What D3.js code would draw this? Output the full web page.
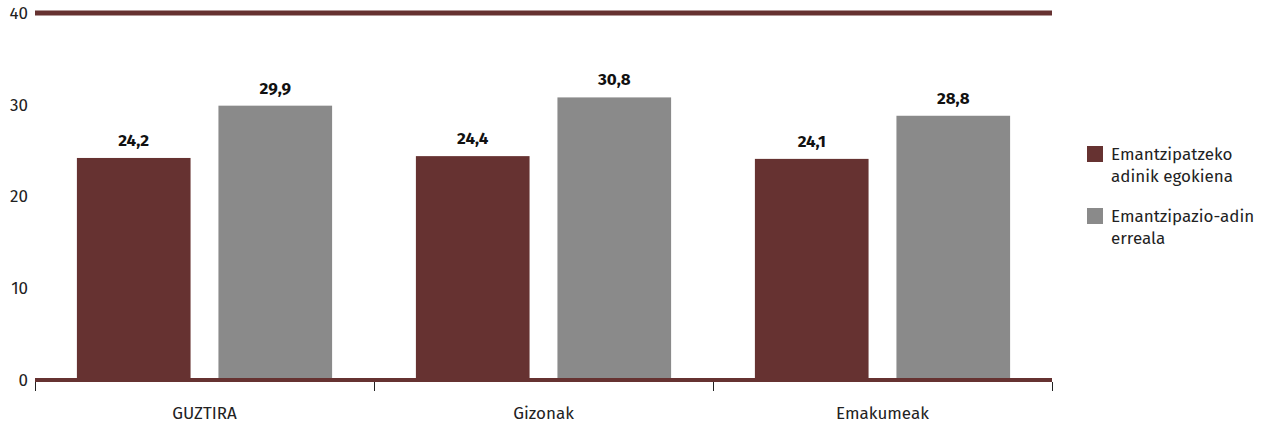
<!DOCTYPE html>
<html><head><meta charset="utf-8">
<script src="https://cdn.jsdelivr.net/npm/d3@7"></script>
<style>body{margin:0;background:#fff;} text{font-family:"Fira Sans","Noto Sans","Open Sans",sans-serif;}</style>
</head><body>
<svg id="c" width="1269" height="423"></svg>
<script>
const categories = ["GUZTIRA", "Gizonak", "Emakumeak"];
const seriesNames = ["Emantzipatzeko adinik egokiena", "Emantzipazio-adin erreala"];
const seriesA = [24.2, 24.4, 24.1];
const seriesB = [29.9, 30.8, 28.8];
const yTicks = [0, 10, 20, 30, 40];
const colors = ["#663231", "#8a8a8a"];

(function(){
const svg = d3.select("#c");
const pl = 35, pr = 1052, pt = 13, pb = 380;
const fs = 17;
const x = d3.scaleBand().domain(categories).range([pl, pr]).padding(0);
const xi = d3.scaleBand().domain([0,1]).range([0, x.bandwidth()]).paddingInner(0.197).paddingOuter(0.296);
const y = d3.scaleLinear().domain([0, 40]).range([pb, pt]);

svg.append("g").selectAll("text").data(yTicks).join("text")
  .attr("x", 28).attr("y", d => y(d)).attr("dy", "0.35em")
  .attr("text-anchor", "end").attr("font-size", fs).attr("fill", "#222")
  .text(d => d);

svg.append("line").attr("x1", pl).attr("x2", pr).attr("y1", y(40)).attr("y2", y(40))
  .attr("stroke", colors[0]).attr("stroke-width", 5);

const data = categories.map((c, i) => ({c, vals: [seriesA[i], seriesB[i]]}));
const g = svg.append("g").selectAll("g").data(data).join("g")
  .attr("transform", d => `translate(${x(d.c)},0)`);
g.selectAll("rect").data(d => d.vals.map((v, k) => ({v, k}))).join("rect")
  .attr("x", d => xi(d.k)).attr("width", xi.bandwidth())
  .attr("y", d => y(d.v)).attr("height", d => y(0) - y(d.v))
  .attr("fill", d => colors[d.k]);
g.selectAll("text").data(d => d.vals.map((v, k) => ({v, k}))).join("text")
  .attr("x", d => xi(d.k) + xi.bandwidth()/2).attr("y", d => y(d.v) - 12)
  .attr("text-anchor", "middle").attr("font-size", fs).attr("font-weight", "bold").attr("fill", "#111")
  .text(d => d3.format(".1f")(d.v).replace(".", ","));

svg.append("line").attr("x1", pl).attr("x2", pr).attr("y1", y(0)).attr("y2", y(0))
  .attr("stroke", colors[0]).attr("stroke-width", 4);

const edges = categories.map(c => x(c)).concat([pr]);
svg.append("g").selectAll("line").data(edges).join("line")
  .attr("x1", d => d + 0.5).attr("x2", d => d + 0.5).attr("y1", 382).attr("y2", 391)
  .attr("stroke", "#222").attr("stroke-width", 1);
svg.append("g").selectAll("text").data(categories).join("text")
  .attr("x", d => x(d) + x.bandwidth()/2).attr("y", 413).attr("dy", "0.35em")
  .attr("text-anchor", "middle").attr("font-size", fs).attr("fill", "#222").text(d => d);

const legendLines = [["Emantzipatzeko", "adinik egokiena"], ["Emantzipazio-adin", "erreala"]];
const lg = svg.append("g").selectAll("g").data(seriesNames).join("g")
  .attr("transform", (d, i) => `translate(1087,${146 + i*62})`);
lg.append("rect").attr("width", 16).attr("height", 16).attr("fill", (d, i) => colors[i]);
lg.append("text").attr("x", 24).attr("y", 8).attr("font-size", fs).attr("fill", "#222")
  .selectAll("tspan").data((d, i) => legendLines[i]).join("tspan")
  .attr("x", 24).attr("dy", (d, j) => j === 0 ? "0.35em" : "22px").text(d => d);
})();
</script>
</body></html>
